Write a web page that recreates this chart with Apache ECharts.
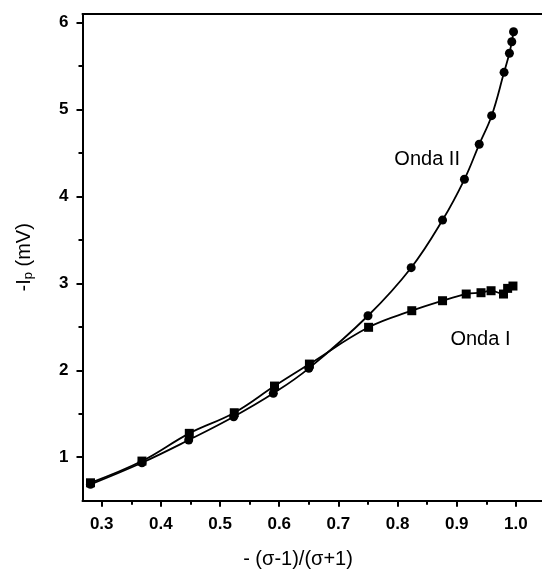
<!DOCTYPE html>
<html>
<head>
<meta charset="utf-8">
<script src="https://cdn.jsdelivr.net/npm/echarts@6/dist/echarts.min.js"></script>
<style>
  html, body { margin: 0; padding: 0; background: #fff; }
  #chart { width: 542px; height: 572px; }
</style>
</head>
<body>
<div id="chart"></div>
<script>
// tick values
var xTicks = [0.3, 0.4, 0.5, 0.6, 0.7, 0.8, 0.9, 1.0];
var xMinorTicks = [0.35, 0.45, 0.55, 0.65, 0.75, 0.85, 0.95];
var yTicks = [1, 2, 3, 4, 5, 6];
var yMinorTicks = [1.5, 2.5, 3.5, 4.5, 5.5];

// Onda I (squares)
var ondaIx = [0.281, 0.368, 0.448, 0.524, 0.592, 0.651, 0.751, 0.824, 0.876, 0.916, 0.941, 0.958, 0.979, 0.986, 0.995];
var ondaIy = [0.706, 0.956, 1.275, 1.512, 1.819, 2.072, 2.495, 2.686, 2.801, 2.878, 2.893, 2.916, 2.878, 2.943, 2.970];

// Onda II (circles)
var ondaIIx = [0.281, 0.368, 0.447, 0.523, 0.590, 0.650, 0.750, 0.823, 0.876, 0.913, 0.938, 0.959, 0.980, 0.989, 0.993, 0.996];
var ondaIIy = [0.688, 0.937, 1.198, 1.466, 1.735, 2.023, 2.628, 3.181, 3.729, 4.198, 4.601, 4.930, 5.429, 5.648, 5.781, 5.896];

// where the curve labels sit (data coords)
var labelOndaI = [0.94, 2.36];
var labelOndaII = [0.85, 4.43];

function pairs(xs, ys) {
  return xs.map(function (x, i) { return [x, ys[i]]; });
}

var font = "'Liberation Sans', Arial, sans-serif";
var chart = echarts.init(document.getElementById("chart"));

var hidden = { show: false };

var option = {
  animation: false,
  backgroundColor: "#fff",
  grid: {
    left: 82.5,
    top: 14,
    width: 463,
    height: 486.7,
    containLabel: false,
    outerBoundsMode: "none",
  },
  xAxis: [
    {
      type: "value",
      min: 0.2675,
      max: 1.05,
      position: "bottom",
      axisLine: { lineStyle: { color: "#000", width: 2 } },
      axisTick: { customValues: xTicks, length: 6, lineStyle: { color: "#000", width: 2 } },
      axisLabel: {
        customValues: xTicks,
        margin: 15,
        color: "#000",
        fontFamily: font,
        fontWeight: "bold",
        fontSize: 17,
        formatter: function (v) { return v.toFixed(1); },
      },
      splitLine: hidden,
      name: "- (σ-1)/(σ+1)",
      nameLocation: "middle",
      nameGap: 49,
      nameTextStyle: { color: "#000", fontFamily: font, fontSize: 20, padding: [0, 32, 0, 0] },
    },
    {
      // minor ticks
      type: "value",
      min: 0.2675,
      max: 1.05,
      position: "bottom",
      axisLine: hidden,
      axisTick: { customValues: xMinorTicks, length: 4, lineStyle: { color: "#000", width: 2 } },
      axisLabel: hidden,
      splitLine: hidden,
    },
    {
      // top frame line
      type: "value",
      min: 0.2675,
      max: 1.05,
      position: "top",
      axisLine: { lineStyle: { color: "#000", width: 2 } },
      axisTick: hidden,
      axisLabel: hidden,
      splitLine: hidden,
    },
  ],
  yAxis: [
    {
      type: "value",
      min: 0.5,
      max: 6.1,
      position: "left",
      axisLine: { show: true, lineStyle: { color: "#000", width: 2 } },
      axisTick: { show: true, customValues: yTicks, length: 6, lineStyle: { color: "#000", width: 2 } },
      axisLabel: {
        customValues: yTicks,
        margin: 14,
        color: "#000",
        fontFamily: font,
        fontWeight: "bold",
        fontSize: 17,
      },
      splitLine: hidden,
      name: "{a|-I}{b|p}{a| (mV)}",
      nameLocation: "middle",
      nameGap: 48,
      nameRotate: 90,
      nameTextStyle: {
        color: "#000",
        rich: {
          a: { fontFamily: font, fontSize: 20, color: "#000" },
          b: { fontFamily: font, fontSize: 13, color: "#000", verticalAlign: "bottom", padding: [7, 0, 0, 0] },
        },
      },
    },
    {
      // minor ticks
      type: "value",
      min: 0.5,
      max: 6.1,
      position: "left",
      axisLine: hidden,
      axisTick: { show: true, customValues: yMinorTicks, length: 4, lineStyle: { color: "#000", width: 2 } },
      axisLabel: hidden,
      splitLine: hidden,
    },
  ],
  series: [
    {
      name: "Onda I",
      type: "line",
      data: pairs(ondaIx, ondaIy),
      smooth: 0.4,
      symbol: "rect",
      symbolSize: 9,
      itemStyle: { color: "#000" },
      lineStyle: { color: "#000", width: 1.8 },
      markPoint: {
        symbol: "circle",
        symbolSize: 0,
        label: { show: true, position: "inside", color: "#000", fontFamily: font, fontSize: 20, formatter: "Onda I" },
        data: [{ coord: labelOndaI }],
      },
    },
    {
      name: "Onda II",
      type: "line",
      data: pairs(ondaIIx, ondaIIy),
      smooth: 0.4,
      symbol: "circle",
      symbolSize: 9,
      itemStyle: { color: "#000" },
      lineStyle: { color: "#000", width: 1.8 },
      markPoint: {
        symbol: "circle",
        symbolSize: 0,
        label: { show: true, position: "inside", color: "#000", fontFamily: font, fontSize: 20, formatter: "Onda II" },
        data: [{ coord: labelOndaII }],
      },
    },
  ],
};

chart.setOption(option);
</script>
</body>
</html>
